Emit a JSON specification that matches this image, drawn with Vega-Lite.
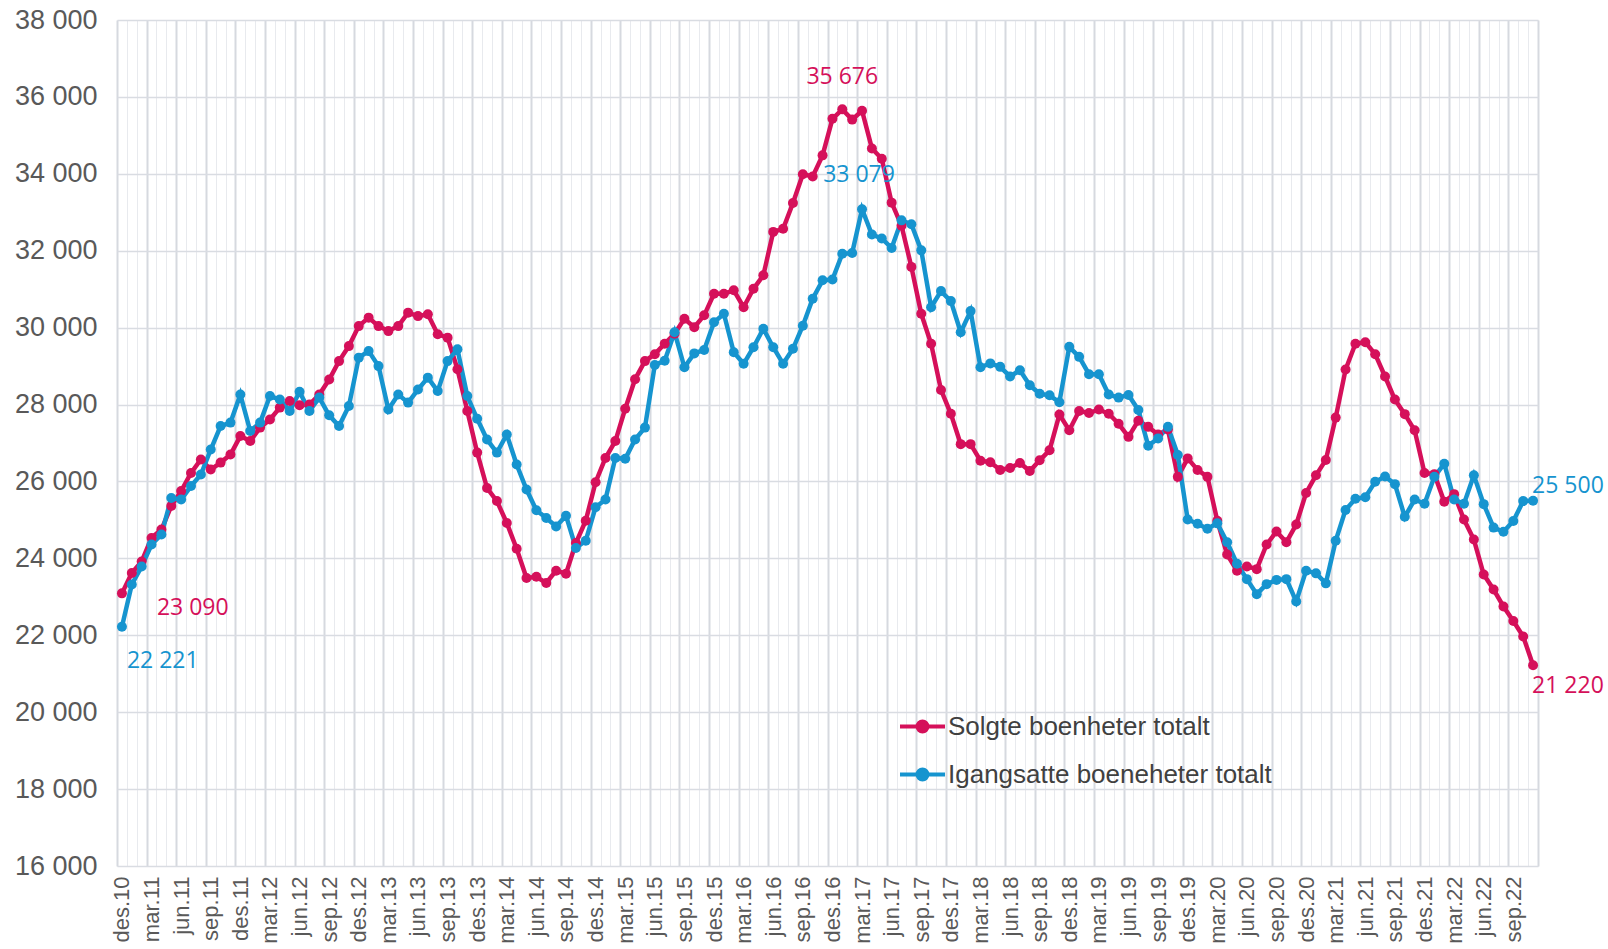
{
  "$schema": "https://vega.github.io/schema/vega-lite/v6.json",
  "autosize": {"type": "none"},
  "padding": {"left": 117, "top": 20, "right": 70, "bottom": 83},
  "width": 1421,
  "height": 846,
  "background": "white",
  "config": {
    "view": {"stroke": null},
    "locale": {"number": {"decimal": ",", "thousands": " ", "grouping": [3], "currency": ["", ""]}},
    "font": "Liberation Sans"
  },
  "data": {
    "values": [
      {"i":0,"m":"des.10","Solgte boenheter totalt":23090,"Igangsatte boeneheter totalt":22221},
      {"i":1,"m":"jan.11","Solgte boenheter totalt":23620,"Igangsatte boeneheter totalt":23320},
      {"i":2,"m":"feb.11","Solgte boenheter totalt":23920,"Igangsatte boeneheter totalt":23790},
      {"i":3,"m":"mar.11","Solgte boenheter totalt":24530,"Igangsatte boeneheter totalt":24360},
      {"i":4,"m":"apr.11","Solgte boenheter totalt":24750,"Igangsatte boeneheter totalt":24620},
      {"i":5,"m":"mai.11","Solgte boenheter totalt":25360,"Igangsatte boeneheter totalt":25570},
      {"i":6,"m":"jun.11","Solgte boenheter totalt":25750,"Igangsatte boeneheter totalt":25530},
      {"i":7,"m":"jul.11","Solgte boenheter totalt":26220,"Igangsatte boeneheter totalt":25880},
      {"i":8,"m":"aug.11","Solgte boenheter totalt":26570,"Igangsatte boeneheter totalt":26180},
      {"i":9,"m":"sep.11","Solgte boenheter totalt":26310,"Igangsatte boeneheter totalt":26830},
      {"i":10,"m":"okt.11","Solgte boenheter totalt":26490,"Igangsatte boeneheter totalt":27440},
      {"i":11,"m":"nov.11","Solgte boenheter totalt":26700,"Igangsatte boeneheter totalt":27530},
      {"i":12,"m":"des.11","Solgte boenheter totalt":27180,"Igangsatte boeneheter totalt":28260},
      {"i":13,"m":"jan.12","Solgte boenheter totalt":27050,"Igangsatte boeneheter totalt":27310},
      {"i":14,"m":"feb.12","Solgte boenheter totalt":27400,"Igangsatte boeneheter totalt":27530},
      {"i":15,"m":"mar.12","Solgte boenheter totalt":27610,"Igangsatte boeneheter totalt":28220},
      {"i":16,"m":"apr.12","Solgte boenheter totalt":27920,"Igangsatte boeneheter totalt":28130},
      {"i":17,"m":"mai.12","Solgte boenheter totalt":28090,"Igangsatte boeneheter totalt":27830},
      {"i":18,"m":"jun.12","Solgte boenheter totalt":27980,"Igangsatte boeneheter totalt":28330},
      {"i":19,"m":"jul.12","Solgte boenheter totalt":28000,"Igangsatte boeneheter totalt":27830},
      {"i":20,"m":"aug.12","Solgte boenheter totalt":28260,"Igangsatte boeneheter totalt":28180},
      {"i":21,"m":"sep.12","Solgte boenheter totalt":28650,"Igangsatte boeneheter totalt":27720},
      {"i":22,"m":"okt.12","Solgte boenheter totalt":29130,"Igangsatte boeneheter totalt":27440},
      {"i":23,"m":"nov.12","Solgte boenheter totalt":29520,"Igangsatte boeneheter totalt":27960},
      {"i":24,"m":"des.12","Solgte boenheter totalt":30040,"Igangsatte boeneheter totalt":29220},
      {"i":25,"m":"jan.13","Solgte boenheter totalt":30260,"Igangsatte boeneheter totalt":29390},
      {"i":26,"m":"feb.13","Solgte boenheter totalt":30040,"Igangsatte boeneheter totalt":29000},
      {"i":27,"m":"mar.13","Solgte boenheter totalt":29910,"Igangsatte boeneheter totalt":27870},
      {"i":28,"m":"apr.13","Solgte boenheter totalt":30040,"Igangsatte boeneheter totalt":28260},
      {"i":29,"m":"mai.13","Solgte boenheter totalt":30390,"Igangsatte boeneheter totalt":28050},
      {"i":30,"m":"jun.13","Solgte boenheter totalt":30300,"Igangsatte boeneheter totalt":28390},
      {"i":31,"m":"jul.13","Solgte boenheter totalt":30350,"Igangsatte boeneheter totalt":28700},
      {"i":32,"m":"aug.13","Solgte boenheter totalt":29830,"Igangsatte boeneheter totalt":28350},
      {"i":33,"m":"sep.13","Solgte boenheter totalt":29740,"Igangsatte boeneheter totalt":29130},
      {"i":34,"m":"okt.13","Solgte boenheter totalt":28920,"Igangsatte boeneheter totalt":29436},
      {"i":35,"m":"nov.13","Solgte boenheter totalt":27830,"Igangsatte boeneheter totalt":28220},
      {"i":36,"m":"des.13","Solgte boenheter totalt":26750,"Igangsatte boeneheter totalt":27630},
      {"i":37,"m":"jan.14","Solgte boenheter totalt":25830,"Igangsatte boeneheter totalt":27090},
      {"i":38,"m":"feb.14","Solgte boenheter totalt":25490,"Igangsatte boeneheter totalt":26750},
      {"i":39,"m":"mar.14","Solgte boenheter totalt":24920,"Igangsatte boeneheter totalt":27220},
      {"i":40,"m":"apr.14","Solgte boenheter totalt":24250,"Igangsatte boeneheter totalt":26440},
      {"i":41,"m":"mai.14","Solgte boenheter totalt":23490,"Igangsatte boeneheter totalt":25790},
      {"i":42,"m":"jun.14","Solgte boenheter totalt":23520,"Igangsatte boeneheter totalt":25250},
      {"i":43,"m":"jul.14","Solgte boenheter totalt":23360,"Igangsatte boeneheter totalt":25050},
      {"i":44,"m":"aug.14","Solgte boenheter totalt":23680,"Igangsatte boeneheter totalt":24830},
      {"i":45,"m":"sep.14","Solgte boenheter totalt":23600,"Igangsatte boeneheter totalt":25110},
      {"i":46,"m":"okt.14","Solgte boenheter totalt":24400,"Igangsatte boeneheter totalt":24270},
      {"i":47,"m":"nov.14","Solgte boenheter totalt":24980,"Igangsatte boeneheter totalt":24460},
      {"i":48,"m":"des.14","Solgte boenheter totalt":25980,"Igangsatte boeneheter totalt":25330},
      {"i":49,"m":"jan.15","Solgte boenheter totalt":26610,"Igangsatte boeneheter totalt":25530},
      {"i":50,"m":"feb.15","Solgte boenheter totalt":27050,"Igangsatte boeneheter totalt":26610},
      {"i":51,"m":"mar.15","Solgte boenheter totalt":27890,"Igangsatte boeneheter totalt":26590},
      {"i":52,"m":"apr.15","Solgte boenheter totalt":28660,"Igangsatte boeneheter totalt":27090},
      {"i":53,"m":"mai.15","Solgte boenheter totalt":29130,"Igangsatte boeneheter totalt":27400},
      {"i":54,"m":"jun.15","Solgte boenheter totalt":29310,"Igangsatte boeneheter totalt":29030},
      {"i":55,"m":"jul.15","Solgte boenheter totalt":29580,"Igangsatte boeneheter totalt":29140},
      {"i":56,"m":"aug.15","Solgte boenheter totalt":29840,"Igangsatte boeneheter totalt":29880},
      {"i":57,"m":"sep.15","Solgte boenheter totalt":30230,"Igangsatte boeneheter totalt":28970},
      {"i":58,"m":"okt.15","Solgte boenheter totalt":30010,"Igangsatte boeneheter totalt":29330},
      {"i":59,"m":"nov.15","Solgte boenheter totalt":30320,"Igangsatte boeneheter totalt":29420},
      {"i":60,"m":"des.15","Solgte boenheter totalt":30880,"Igangsatte boeneheter totalt":30140},
      {"i":61,"m":"jan.16","Solgte boenheter totalt":30880,"Igangsatte boeneheter totalt":30360},
      {"i":62,"m":"feb.16","Solgte boenheter totalt":30970,"Igangsatte boeneheter totalt":29360},
      {"i":63,"m":"mar.16","Solgte boenheter totalt":30530,"Igangsatte boeneheter totalt":29060},
      {"i":64,"m":"apr.16","Solgte boenheter totalt":31010,"Igangsatte boeneheter totalt":29490},
      {"i":65,"m":"mai.16","Solgte boenheter totalt":31360,"Igangsatte boeneheter totalt":29970},
      {"i":66,"m":"jun.16","Solgte boenheter totalt":32490,"Igangsatte boeneheter totalt":29490},
      {"i":67,"m":"jul.16","Solgte boenheter totalt":32570,"Igangsatte boeneheter totalt":29060},
      {"i":68,"m":"aug.16","Solgte boenheter totalt":33240,"Igangsatte boeneheter totalt":29450},
      {"i":69,"m":"sep.16","Solgte boenheter totalt":33990,"Igangsatte boeneheter totalt":30050},
      {"i":70,"m":"okt.16","Solgte boenheter totalt":33930,"Igangsatte boeneheter totalt":30750},
      {"i":71,"m":"nov.16","Solgte boenheter totalt":34480,"Igangsatte boeneheter totalt":31230},
      {"i":72,"m":"des.16","Solgte boenheter totalt":35430,"Igangsatte boeneheter totalt":31250},
      {"i":73,"m":"jan.17","Solgte boenheter totalt":35676,"Igangsatte boeneheter totalt":31920},
      {"i":74,"m":"feb.17","Solgte boenheter totalt":35410,"Igangsatte boeneheter totalt":31940},
      {"i":75,"m":"mar.17","Solgte boenheter totalt":35640,"Igangsatte boeneheter totalt":33079},
      {"i":76,"m":"apr.17","Solgte boenheter totalt":34660,"Igangsatte boeneheter totalt":32420},
      {"i":77,"m":"mai.17","Solgte boenheter totalt":34390,"Igangsatte boeneheter totalt":32320},
      {"i":78,"m":"jun.17","Solgte boenheter totalt":33250,"Igangsatte boeneheter totalt":32070},
      {"i":79,"m":"jul.17","Solgte boenheter totalt":32650,"Igangsatte boeneheter totalt":32790},
      {"i":80,"m":"aug.17","Solgte boenheter totalt":31580,"Igangsatte boeneheter totalt":32690},
      {"i":81,"m":"sep.17","Solgte boenheter totalt":30360,"Igangsatte boeneheter totalt":32010},
      {"i":82,"m":"okt.17","Solgte boenheter totalt":29580,"Igangsatte boeneheter totalt":30530},
      {"i":83,"m":"nov.17","Solgte boenheter totalt":28380,"Igangsatte boeneheter totalt":30950},
      {"i":84,"m":"des.17","Solgte boenheter totalt":27760,"Igangsatte boeneheter totalt":30690},
      {"i":85,"m":"jan.18","Solgte boenheter totalt":26970,"Igangsatte boeneheter totalt":29880},
      {"i":86,"m":"feb.18","Solgte boenheter totalt":26970,"Igangsatte boeneheter totalt":30430},
      {"i":87,"m":"mar.18","Solgte boenheter totalt":26540,"Igangsatte boeneheter totalt":28970},
      {"i":88,"m":"apr.18","Solgte boenheter totalt":26500,"Igangsatte boeneheter totalt":29070},
      {"i":89,"m":"mai.18","Solgte boenheter totalt":26300,"Igangsatte boeneheter totalt":28980},
      {"i":90,"m":"jun.18","Solgte boenheter totalt":26350,"Igangsatte boeneheter totalt":28730},
      {"i":91,"m":"jul.18","Solgte boenheter totalt":26480,"Igangsatte boeneheter totalt":28890},
      {"i":92,"m":"aug.18","Solgte boenheter totalt":26270,"Igangsatte boeneheter totalt":28500},
      {"i":93,"m":"sep.18","Solgte boenheter totalt":26550,"Igangsatte boeneheter totalt":28280},
      {"i":94,"m":"okt.18","Solgte boenheter totalt":26810,"Igangsatte boeneheter totalt":28240},
      {"i":95,"m":"nov.18","Solgte boenheter totalt":27740,"Igangsatte boeneheter totalt":28060},
      {"i":96,"m":"des.18","Solgte boenheter totalt":27330,"Igangsatte boeneheter totalt":29500},
      {"i":97,"m":"jan.19","Solgte boenheter totalt":27830,"Igangsatte boeneheter totalt":29240},
      {"i":98,"m":"feb.19","Solgte boenheter totalt":27780,"Igangsatte boeneheter totalt":28790},
      {"i":99,"m":"mar.19","Solgte boenheter totalt":27870,"Igangsatte boeneheter totalt":28790},
      {"i":100,"m":"apr.19","Solgte boenheter totalt":27760,"Igangsatte boeneheter totalt":28260},
      {"i":101,"m":"mai.19","Solgte boenheter totalt":27500,"Igangsatte boeneheter totalt":28180},
      {"i":102,"m":"jun.19","Solgte boenheter totalt":27160,"Igangsatte boeneheter totalt":28250},
      {"i":103,"m":"jul.19","Solgte boenheter totalt":27580,"Igangsatte boeneheter totalt":27860},
      {"i":104,"m":"aug.19","Solgte boenheter totalt":27420,"Igangsatte boeneheter totalt":26930},
      {"i":105,"m":"sep.19","Solgte boenheter totalt":27220,"Igangsatte boeneheter totalt":27120},
      {"i":106,"m":"okt.19","Solgte boenheter totalt":27350,"Igangsatte boeneheter totalt":27420},
      {"i":107,"m":"nov.19","Solgte boenheter totalt":26120,"Igangsatte boeneheter totalt":26690},
      {"i":108,"m":"des.19","Solgte boenheter totalt":26600,"Igangsatte boeneheter totalt":25010},
      {"i":109,"m":"jan.20","Solgte boenheter totalt":26300,"Igangsatte boeneheter totalt":24900},
      {"i":110,"m":"feb.20","Solgte boenheter totalt":26120,"Igangsatte boeneheter totalt":24770},
      {"i":111,"m":"mar.20","Solgte boenheter totalt":24980,"Igangsatte boeneheter totalt":24910},
      {"i":112,"m":"apr.20","Solgte boenheter totalt":24100,"Igangsatte boeneheter totalt":24420},
      {"i":113,"m":"mai.20","Solgte boenheter totalt":23680,"Igangsatte boeneheter totalt":23860},
      {"i":114,"m":"jun.20","Solgte boenheter totalt":23790,"Igangsatte boeneheter totalt":23460},
      {"i":115,"m":"jul.20","Solgte boenheter totalt":23720,"Igangsatte boeneheter totalt":23070},
      {"i":116,"m":"aug.20","Solgte boenheter totalt":24360,"Igangsatte boeneheter totalt":23330},
      {"i":117,"m":"sep.20","Solgte boenheter totalt":24700,"Igangsatte boeneheter totalt":23440},
      {"i":118,"m":"okt.20","Solgte boenheter totalt":24420,"Igangsatte boeneheter totalt":23460},
      {"i":119,"m":"nov.20","Solgte boenheter totalt":24880,"Igangsatte boeneheter totalt":22880},
      {"i":120,"m":"des.20","Solgte boenheter totalt":25700,"Igangsatte boeneheter totalt":23680},
      {"i":121,"m":"jan.21","Solgte boenheter totalt":26160,"Igangsatte boeneheter totalt":23610},
      {"i":122,"m":"feb.21","Solgte boenheter totalt":26560,"Igangsatte boeneheter totalt":23350},
      {"i":123,"m":"mar.21","Solgte boenheter totalt":27660,"Igangsatte boeneheter totalt":24460},
      {"i":124,"m":"apr.21","Solgte boenheter totalt":28910,"Igangsatte boeneheter totalt":25260},
      {"i":125,"m":"mai.21","Solgte boenheter totalt":29580,"Igangsatte boeneheter totalt":25550},
      {"i":126,"m":"jun.21","Solgte boenheter totalt":29620,"Igangsatte boeneheter totalt":25590},
      {"i":127,"m":"jul.21","Solgte boenheter totalt":29310,"Igangsatte boeneheter totalt":25990},
      {"i":128,"m":"aug.21","Solgte boenheter totalt":28730,"Igangsatte boeneheter totalt":26130},
      {"i":129,"m":"sep.21","Solgte boenheter totalt":28130,"Igangsatte boeneheter totalt":25930},
      {"i":130,"m":"okt.21","Solgte boenheter totalt":27750,"Igangsatte boeneheter totalt":25080},
      {"i":131,"m":"nov.21","Solgte boenheter totalt":27330,"Igangsatte boeneheter totalt":25530},
      {"i":132,"m":"des.21","Solgte boenheter totalt":26220,"Igangsatte boeneheter totalt":25420},
      {"i":133,"m":"jan.22","Solgte boenheter totalt":26190,"Igangsatte boeneheter totalt":26120},
      {"i":134,"m":"feb.22","Solgte boenheter totalt":25470,"Igangsatte boeneheter totalt":26460},
      {"i":135,"m":"mar.22","Solgte boenheter totalt":25670,"Igangsatte boeneheter totalt":25530},
      {"i":136,"m":"apr.22","Solgte boenheter totalt":25010,"Igangsatte boeneheter totalt":25420},
      {"i":137,"m":"mai.22","Solgte boenheter totalt":24490,"Igangsatte boeneheter totalt":26160},
      {"i":138,"m":"jun.22","Solgte boenheter totalt":23580,"Igangsatte boeneheter totalt":25410},
      {"i":139,"m":"jul.22","Solgte boenheter totalt":23190,"Igangsatte boeneheter totalt":24800},
      {"i":140,"m":"aug.22","Solgte boenheter totalt":22750,"Igangsatte boeneheter totalt":24690},
      {"i":141,"m":"sep.22","Solgte boenheter totalt":22370,"Igangsatte boeneheter totalt":24970},
      {"i":142,"m":"okt.22","Solgte boenheter totalt":21970,"Igangsatte boeneheter totalt":25490},
      {"i":143,"m":"nov.22","Solgte boenheter totalt":21220,"Igangsatte boeneheter totalt":25500}
    ]
  },
  "transform": [
    {"fold": ["Solgte boenheter totalt", "Igangsatte boeneheter totalt"], "as": ["serie", "v"]}
  ],
  "encoding": {
    "y": {
      "field": "v", "type": "quantitative",
      "scale": {"domain": [16000, 38000], "nice": false, "zero": false},
      "axis": {
        "values": [16000, 18000, 20000, 22000, 24000, 26000, 28000, 30000, 32000, 34000, 36000, 38000],
        "format": ",d", "title": null, "labelFontSize": 27, "labelColor": "#595959",
        "labelPadding": 20, "ticks": false, "domain": false,
        "gridColor": "#D9DCE2", "gridWidth": 1.5, "labelFont": "Liberation Sans"
      }
    }
  },
  "layer": [
    {
      "mark": {"type": "point", "opacity": 0},
      "encoding": {
        "x": {
          "field": "i", "type": "quantitative",
          "scale": {"domain": [-0.5, 143.5], "nice": false, "zero": false},
          "axis": {
            "orient": "bottom", "title": null, "labels": false, "ticks": false, "domain": false,
            "grid": true, "gridColor": "#E8EAEE", "gridWidth": 1,
            "values": [-0.5,0.5,1.5,2.5,3.5,4.5,5.5,6.5,7.5,8.5,9.5,10.5,11.5,12.5,13.5,14.5,15.5,16.5,17.5,18.5,19.5,20.5,21.5,22.5,23.5,24.5,25.5,26.5,27.5,28.5,29.5,30.5,31.5,32.5,33.5,34.5,35.5,36.5,37.5,38.5,39.5,40.5,41.5,42.5,43.5,44.5,45.5,46.5,47.5,48.5,49.5,50.5,51.5,52.5,53.5,54.5,55.5,56.5,57.5,58.5,59.5,60.5,61.5,62.5,63.5,64.5,65.5,66.5,67.5,68.5,69.5,70.5,71.5,72.5,73.5,74.5,75.5,76.5,77.5,78.5,79.5,80.5,81.5,82.5,83.5,84.5,85.5,86.5,87.5,88.5,89.5,90.5,91.5,92.5,93.5,94.5,95.5,96.5,97.5,98.5,99.5,100.5,101.5,102.5,103.5,104.5,105.5,106.5,107.5,108.5,109.5,110.5,111.5,112.5,113.5,114.5,115.5,116.5,117.5,118.5,119.5,120.5,121.5,122.5,123.5,124.5,125.5,126.5,127.5,128.5,129.5,130.5,131.5,132.5,133.5,134.5,135.5,136.5,137.5,138.5,139.5,140.5,141.5,142.5,143.5]
          }
        }
      }
    },
    {
      "mark": {"type": "point", "opacity": 0},
      "encoding": {
        "x": {
          "field": "i", "type": "quantitative",
          "axis": {
            "orient": "bottom", "title": null, "labels": false, "ticks": false, "domain": false,
            "grid": true, "gridColor": "#D6D9DF", "gridWidth": 2,
            "values": [-0.5,2.5,5.5,8.5,11.5,14.5,17.5,20.5,23.5,26.5,29.5,32.5,35.5,38.5,41.5,44.5,47.5,50.5,53.5,56.5,59.5,62.5,65.5,68.5,71.5,74.5,77.5,80.5,83.5,86.5,89.5,92.5,95.5,98.5,101.5,104.5,107.5,110.5,113.5,116.5,119.5,122.5,125.5,128.5,131.5,134.5,137.5,140.5,143.5]
          }
        }
      }
    },
    {
      "mark": {"type": "line", "strokeWidth": 4.5},
      "encoding": {
        "x": {
          "field": "i", "type": "quantitative",
          "axis": {
            "orient": "bottom", "title": null, "grid": false, "ticks": false, "domain": false,
            "labelAngle": -90, "labelFontSize": 22, "labelColor": "#595959", "labelPadding": 10,
            "labelFont": "Liberation Sans",
            "values": [0,3,6,9,12,15,18,21,24,27,30,33,36,39,42,45,48,51,54,57,60,63,66,69,72,75,78,81,84,87,90,93,96,99,102,105,108,111,114,117,120,123,126,129,132,135,138,141],
            "labelExpr": "['des','mar','jun','sep'][(datum.value/3)%4] + '.' + (floor((24131+datum.value)/12)-2000)"
          }
        },
        "color": {
          "field": "serie", "type": "nominal",
          "scale": {"domain": ["Solgte boenheter totalt", "Igangsatte boeneheter totalt"], "range": ["#D5105A", "#1694CF"]},
          "legend": {
            "orient": "none", "legendX": 781, "legendY": 682, "title": null, "padding": 0,
            "symbolType": "M-1,0H1M-0.22,0A0.22,0.22 0 1,0 0.22,0A0.22,0.22 0 1,0 -0.22,0",
            "symbolSize": 2025, "symbolStrokeWidth": 4, "rowPadding": 10,
            "labelFontSize": 26, "labelColor": "#404040", "labelFont": "Liberation Sans",
            "labelOffset": 1, "labelLimit": 600
          }
        },
        "order": {"field": "i", "type": "quantitative"}
      }
    },
    {
      "mark": {"type": "point", "filled": true, "size": 100, "opacity": 1},
      "encoding": {
        "x": {"field": "i", "type": "quantitative", "axis": null},
        "color": {"field": "serie", "type": "nominal"}
      }
    },
    {
      "transform": [{"filter": "datum.i == 0 && datum.serie == 'Solgte boenheter totalt'"}],
      "mark": {"type": "text", "align": "left", "baseline": "middle", "dx": 35, "dy": 15, "fontSize": 23, "font": "Open Sans", "color": "#D5105A"},
      "encoding": {"x": {"field": "i", "type": "quantitative", "axis": null}, "text": {"field": "v", "type": "quantitative", "format": ",d"}}
    },
    {
      "transform": [{"filter": "datum.i == 0 && datum.serie == 'Igangsatte boeneheter totalt'"}],
      "mark": {"type": "text", "align": "left", "baseline": "middle", "dx": 5, "dy": 34, "fontSize": 23, "font": "Open Sans", "color": "#1694CF"},
      "encoding": {"x": {"field": "i", "type": "quantitative", "axis": null}, "text": {"field": "v", "type": "quantitative", "format": ",d"}}
    },
    {
      "transform": [{"filter": "datum.i == 73 && datum.serie == 'Solgte boenheter totalt'"}],
      "mark": {"type": "text", "align": "center", "baseline": "middle", "dx": 0, "dy": -32, "fontSize": 23, "font": "Open Sans", "color": "#D5105A"},
      "encoding": {"x": {"field": "i", "type": "quantitative", "axis": null}, "text": {"field": "v", "type": "quantitative", "format": ",d"}}
    },
    {
      "transform": [{"filter": "datum.i == 75 && datum.serie == 'Igangsatte boeneheter totalt'"}],
      "mark": {"type": "text", "align": "center", "baseline": "middle", "dx": -3, "dy": -34, "fontSize": 23, "font": "Open Sans", "color": "#1694CF"},
      "encoding": {"x": {"field": "i", "type": "quantitative", "axis": null}, "text": {"field": "v", "type": "quantitative", "format": ",d"}}
    },
    {
      "transform": [{"filter": "datum.i == 143 && datum.serie == 'Igangsatte boeneheter totalt'"}],
      "mark": {"type": "text", "align": "left", "baseline": "middle", "dx": -1, "dy": -15, "fontSize": 23, "font": "Open Sans", "color": "#1694CF"},
      "encoding": {"x": {"field": "i", "type": "quantitative", "axis": null}, "text": {"field": "v", "type": "quantitative", "format": ",d"}}
    },
    {
      "transform": [{"filter": "datum.i == 143 && datum.serie == 'Solgte boenheter totalt'"}],
      "mark": {"type": "text", "align": "left", "baseline": "middle", "dx": -1, "dy": 21, "fontSize": 23, "font": "Open Sans", "color": "#D5105A"},
      "encoding": {"x": {"field": "i", "type": "quantitative", "axis": null}, "text": {"field": "v", "type": "quantitative", "format": ",d"}}
    }
  ],
  "resolve": {"scale": {"x": "shared", "y": "shared"}, "axis": {"x": "independent"}}
}
